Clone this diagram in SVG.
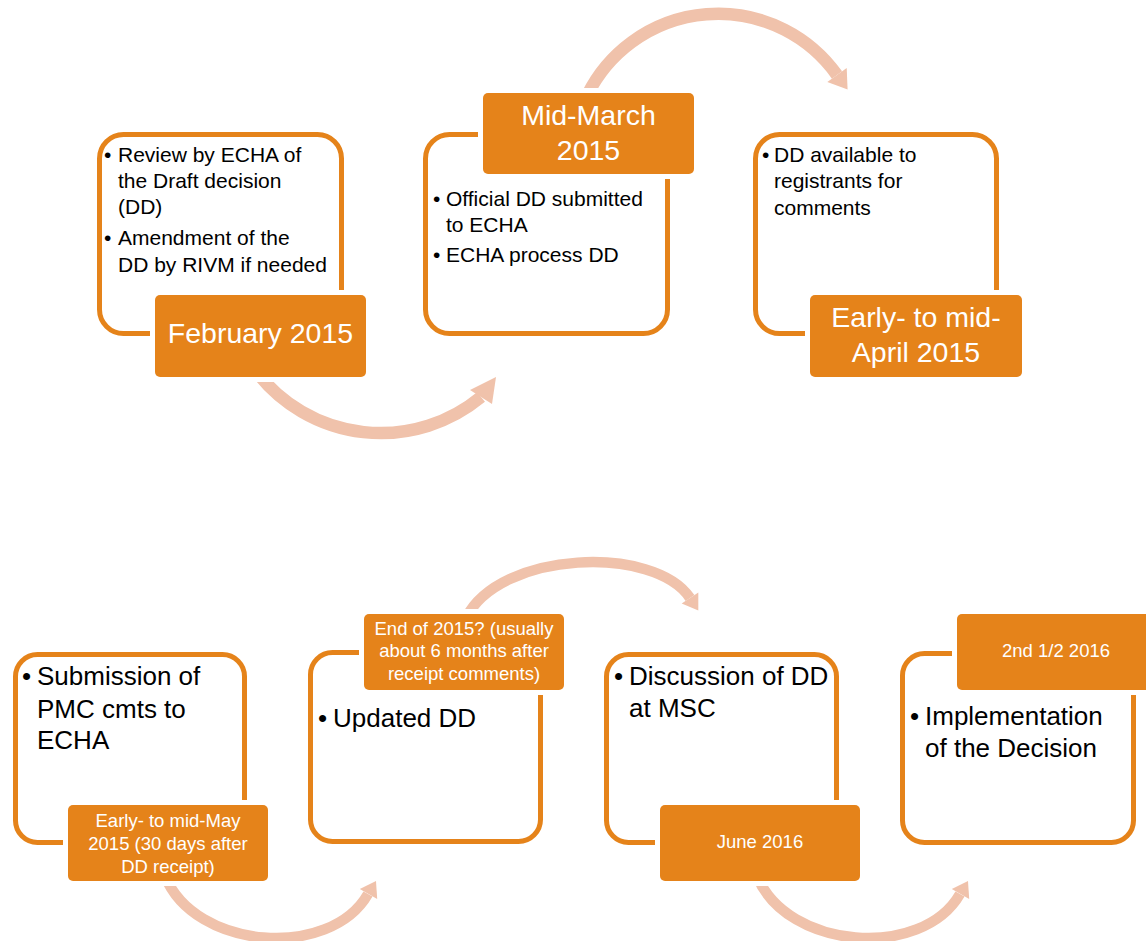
<svg xmlns="http://www.w3.org/2000/svg" width="1146" height="941" viewBox="0 0 1146 941">
<style>
.box{fill:#fff;stroke:#E5831A;stroke-width:5}
.lbl{fill:#E5831A}
.gap{fill:#fff}
.body{font-family:"Liberation Sans",Arial,sans-serif;fill:#000}
.t1{font-size:21px}
.t2{font-size:26px}
.big{font-family:"Liberation Sans",Arial,sans-serif;font-size:28.5px;fill:#fff;text-anchor:middle}
.sm{font-family:"Liberation Sans",Arial,sans-serif;font-size:18.5px;fill:#fff;text-anchor:middle}
.arc{fill:none;stroke:#F0C2AB}
.head{fill:#F0C2AB}
</style>
<rect width="1146" height="941" fill="#fff"/>
<g id="connectors">
<path class="arc" stroke-width="12.5" d="M 256.6 372 A 157 157 0 0 0 481 397"/>
<polygon class="head" points="496,377 470,390 492,404"/>
<path class="arc" stroke-width="12.5" d="M 587.3 95 A 146 146 0 0 1 837 75"/>
<polygon class="head" points="847.6,89.6 827.3,82.1 846.7,67.9"/>
<path class="arc" stroke-width="10.5" d="M 165 876 C 195 950, 330 960, 368 894"/>
<polygon class="head" points="376,881 377.2,899 359.8,889"/>
<path class="arc" stroke-width="10.5" d="M 466 618 C 500 550, 655 545, 690 598"/>
<polygon class="head" points="698.3,610.5 681.7,603.5 698.3,592.5"/>
<path class="arc" stroke-width="10.5" d="M 757 876 C 787 950, 922 960, 960 894"/>
<polygon class="head" points="968,881 969.2,899 951.8,889"/>
</g>
<g id="node1">
<rect class="box" x="99.5" y="134.5" width="242" height="199" rx="24"/>
<text class="body t1"><tspan x="104" y="162">•</tspan><tspan x="118" y="162">Review by ECHA of</tspan><tspan x="118" y="188">the Draft decision</tspan><tspan x="118" y="214">(DD)</tspan><tspan x="104" y="245">•</tspan><tspan x="118" y="245">Amendment of the</tspan><tspan x="118" y="272">DD by RIVM if needed</tspan></text>
<rect class="gap" x="150" y="290" width="221" height="92" rx="8"/>
<rect class="lbl" x="155" y="295" width="211" height="82" rx="5"/>
<text class="big" x="260.5" y="343">February 2015</text>
</g>
<g id="node2">
<rect class="box" x="425.5" y="134.5" width="242" height="199" rx="24"/>
<text class="body t1"><tspan x="433" y="206">•</tspan><tspan x="446" y="206">Official DD submitted</tspan><tspan x="446" y="232">to ECHA</tspan><tspan x="433" y="262">•</tspan><tspan x="446" y="262">ECHA process DD</tspan></text>
<rect class="gap" x="478" y="88" width="221" height="91" rx="8"/>
<rect class="lbl" x="483" y="93" width="211" height="81" rx="5"/>
<text class="big" x="588.5" y="125">Mid-March</text>
<text class="big" x="588.5" y="160">2015</text>
</g>
<g id="node3">
<rect class="box" x="755.5" y="134.5" width="241" height="199" rx="24"/>
<text class="body t1"><tspan x="762" y="162">•</tspan><tspan x="774" y="162">DD available to</tspan><tspan x="774" y="188">registrants for</tspan><tspan x="774" y="215">comments</tspan></text>
<rect class="gap" x="805" y="290" width="222" height="92" rx="8"/>
<rect class="lbl" x="810" y="295" width="212" height="82" rx="5"/>
<text class="big" x="916" y="327">Early- to mid-</text>
<text class="big" x="916" y="362">April 2015</text>
</g>
<g id="node4">
<rect class="box" x="15.5" y="654.5" width="229" height="188" rx="22"/>
<text class="body t2"><tspan x="22" y="685">•</tspan><tspan x="37" y="685">Submission of</tspan><tspan x="37" y="718">PMC cmts to</tspan><tspan x="37" y="749">ECHA</tspan></text>
<rect class="gap" x="63" y="800" width="210" height="86" rx="8"/>
<rect class="lbl" x="68" y="805" width="200" height="76" rx="5"/>
<text class="sm"><tspan x="168" y="827">Early- to mid-May</tspan><tspan x="168" y="850">2015 (30 days after</tspan><tspan x="168" y="873">DD receipt)</tspan></text>
</g>
<g id="node5">
<rect class="box" x="310.5" y="652.5" width="230" height="189" rx="22"/>
<text class="body t2"><tspan x="318" y="727">•</tspan><tspan x="333" y="727">Updated DD</tspan></text>
<rect class="gap" x="359" y="609" width="210" height="86" rx="8"/>
<rect class="lbl" x="364" y="614" width="200" height="76" rx="5"/>
<text class="sm"><tspan x="464" y="635">End of 2015? (usually</tspan><tspan x="464" y="657">about 6 months after</tspan><tspan x="464" y="680">receipt comments)</tspan></text>
</g>
<g id="node6">
<rect class="box" x="606.5" y="654.5" width="230" height="188" rx="22"/>
<text class="body t2"><tspan x="614" y="685">•</tspan><tspan x="629" y="685">Discussion of DD</tspan><tspan x="629" y="717">at MSC</tspan></text>
<rect class="gap" x="655" y="800" width="210" height="86" rx="8"/>
<rect class="lbl" x="660" y="805" width="200" height="76" rx="5"/>
<text class="sm" x="760" y="848">June 2016</text>
</g>
<g id="node7">
<rect class="box" x="902.5" y="653.5" width="231" height="189" rx="22"/>
<text class="body t2"><tspan x="910" y="725">•</tspan><tspan x="925" y="725">Implementation</tspan><tspan x="925" y="757">of the Decision</tspan></text>
<rect class="gap" x="952" y="609" width="210" height="86" rx="8"/>
<rect class="lbl" x="957" y="614" width="200" height="76" rx="5"/>
<text class="sm" x="1056" y="657">2nd 1/2 2016</text>
</g>
</svg>
